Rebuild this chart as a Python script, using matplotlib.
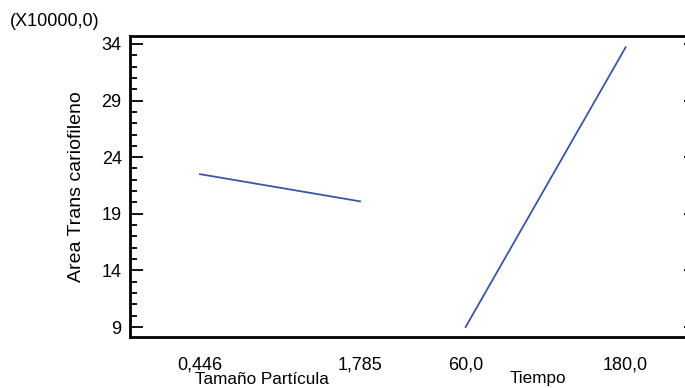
import matplotlib.pyplot as plt
from matplotlib.ticker import MultipleLocator

# main effects (values in units of 10000)
factors = ["Tamaño Partícula", "Tiempo"]
level_labels = [["0,446", "1,785"], ["60,0", "180,0"]]
effects = [[22.5, 20.1], [9.0, 33.7]]

yticks = [9, 14, 19, 24, 29, 34]

plt.rcParams["font.family"] = ["Liberation Sans", "DejaVu Sans"]
plt.rcParams["font.size"] = 13

fig = plt.figure(figsize=(6.85, 3.88), dpi=100)
W, H = 685, 388
left, right, top, bottom = 130, 696, 36, 337
ax = fig.add_axes([left / W, 1 - bottom / H, (right - left) / W, (bottom - top) / H])

# horizontal slots for each factor (low, high)
slots = [[0.0, 1.0], [1.66, 2.66]]
blue = "#3a55a4"
for pos, vals in zip(slots, effects):
    ax.plot(pos, vals, color=blue, lw=1.3)

ax.set_xlim((left - 200) / 160, (right - 200) / 160)
ax.set_ylim(8.12, 34.7)

ax.set_xticks([p for s in slots for p in s])
ax.set_xticklabels([l for ls in level_labels for l in ls])
ax.tick_params(axis="x", length=0, pad=14, labelsize=13)

ax.set_yticks(yticks)
ax.yaxis.set_minor_locator(MultipleLocator(1))
ax.tick_params(axis="y", which="major", direction="in", length=9, width=1.3,
               right=True, labelsize=13, pad=6)
ax.tick_params(axis="y", which="minor", direction="in", length=5, width=1.3, right=False)

for s in ax.spines.values():
    s.set_linewidth(2)

# factor names sit a bit left of the middle of their pair of levels
for xc, name in zip([262, 538], factors):
    fig.text(xc / W, 1 - 379 / H, name, ha="center", va="center", fontsize=12.3)

ax.set_ylabel("Area Trans cariofileno", fontsize=14, labelpad=12)
fig.text(10 / W, 1 - 22 / H, "(X10000,0)", ha="left", va="center", fontsize=13)

fig.savefig("out.png", dpi=100)
